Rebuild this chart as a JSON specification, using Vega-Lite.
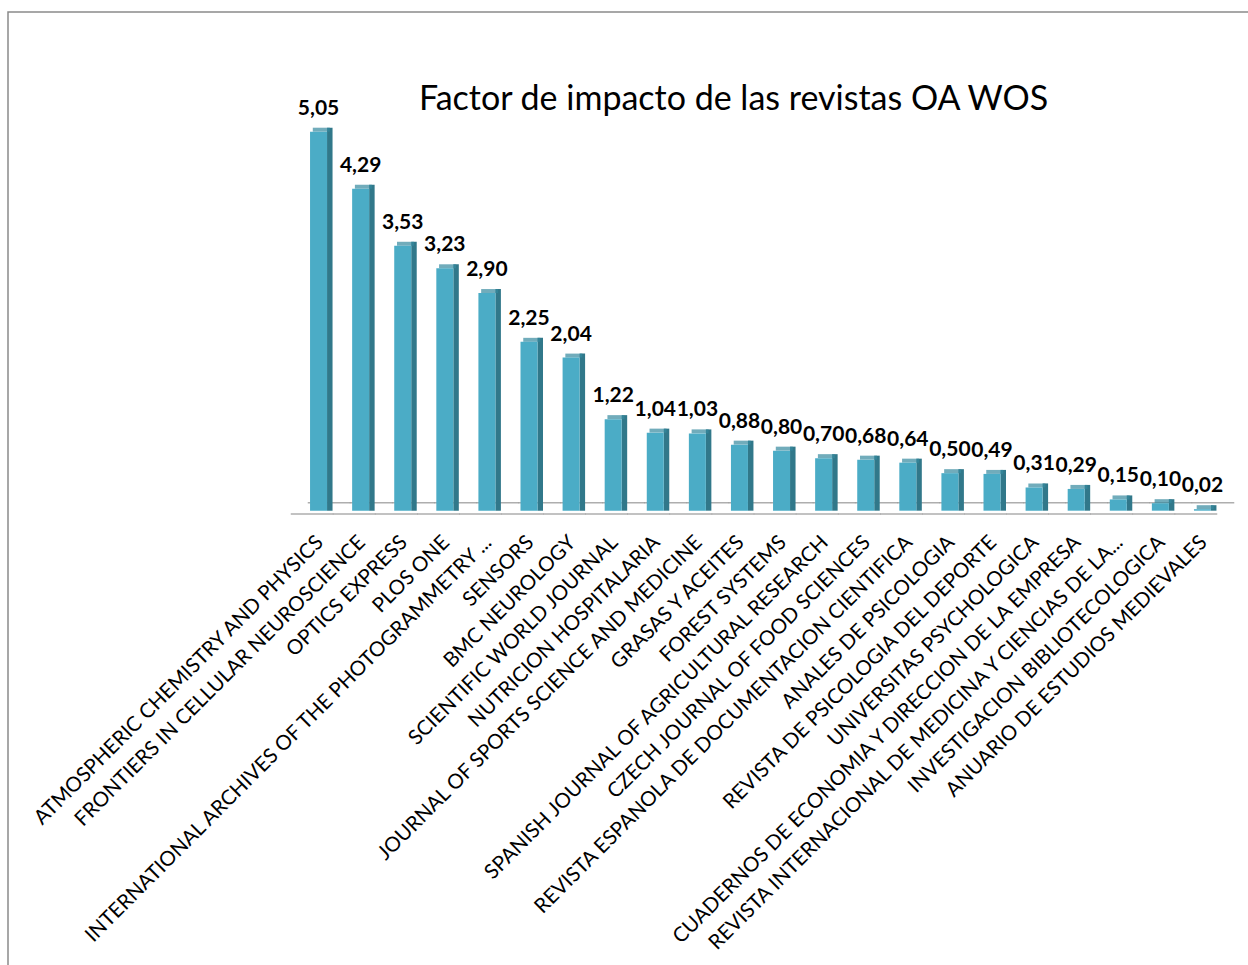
{
  "$schema": "https://vega.github.io/schema/vega-lite/v6.json",
  "autosize": {"type": "none"},
  "padding": {"left": 8, "top": 12, "right": -4, "bottom": -4},
  "width": 1244,
  "height": 957,
  "background": "white",
  "config": {
    "locale": {"number": {"decimal": ",", "thousands": ".", "grouping": [3], "currency": ["", " €"]}},
    "view": {"stroke": "#8a8a8a", "strokeWidth": 1.5},
    "font": "Lato"
  },
  "title": {
    "text": "Factor de impacto de las revistas OA WOS",
    "font": "Lato",
    "fontSize": 34,
    "fontWeight": "normal",
    "color": "#000000",
    "anchor": "middle",
    "baseline": "alphabetic",
    "offset": 0,
    "dx": 103.5,
    "dy": 132
  },
  "data": {
    "values": [
      {"revista": "ATMOSPHERIC CHEMISTRY AND PHYSICS", "fi": 5.05},
      {"revista": "FRONTIERS IN CELLULAR NEUROSCIENCE", "fi": 4.29},
      {"revista": "OPTICS EXPRESS", "fi": 3.53},
      {"revista": "PLOS ONE", "fi": 3.23},
      {"revista": "INTERNATIONAL ARCHIVES OF THE PHOTOGRAMMETRY ...", "fi": 2.90},
      {"revista": "SENSORS", "fi": 2.25},
      {"revista": "BMC NEUROLOGY", "fi": 2.04},
      {"revista": "SCIENTIFIC WORLD JOURNAL", "fi": 1.22},
      {"revista": "NUTRICION HOSPITALARIA", "fi": 1.04},
      {"revista": "JOURNAL OF SPORTS SCIENCE AND MEDICINE", "fi": 1.03},
      {"revista": "GRASAS Y ACEITES", "fi": 0.88},
      {"revista": "FOREST SYSTEMS", "fi": 0.80},
      {"revista": "SPANISH JOURNAL OF AGRICULTURAL RESEARCH", "fi": 0.70},
      {"revista": "CZECH JOURNAL OF FOOD SCIENCES", "fi": 0.68},
      {"revista": "REVISTA ESPANOLA DE DOCUMENTACION CIENTIFICA", "fi": 0.64},
      {"revista": "ANALES DE PSICOLOGIA", "fi": 0.50},
      {"revista": "REVISTA DE PSICOLOGIA DEL DEPORTE", "fi": 0.49},
      {"revista": "UNIVERSITAS PSYCHOLOGICA", "fi": 0.31},
      {"revista": "CUADERNOS DE ECONOMIA Y DIRECCION DE LA EMPRESA", "fi": 0.29},
      {"revista": "REVISTA INTERNACIONAL DE MEDICINA Y CIENCIAS DE LA...", "fi": 0.15},
      {"revista": "INVESTIGACION BIBLIOTECOLOGICA", "fi": 0.10},
      {"revista": "ANUARIO DE ESTUDIOS MEDIEVALES", "fi": 0.02}
    ]
  },
  "encoding": {
    "x": {
      "field": "revista",
      "type": "nominal",
      "sort": null,
      "scale": {"paddingInner": 0, "paddingOuter": 0, "range": [291, 1217]},
      "axis": {
        "orient": "bottom",
        "offset": -458,
        "title": null,
        "domain": false,
        "ticks": false,
        "labelAngle": -45,
        "labelAlign": "right",
        "labelBaseline": "middle",
        "labelPadding": 28,
        "labelFont": "Lato",
        "labelFontSize": 20.5,
        "labelColor": "#000000",
        "labelLimit": 1000,
        "labelOverlap": false
      }
    }
  },
  "layer": [
    {
      "mark": {"type": "tick", "size": 42.6, "thickness": 1.6, "color": "#8c8c8c", "xOffset": 9},
      "encoding": {"y": {"datum": 0.105, "type": "quantitative", "scale": {"domain": [-6.107, 6.645], "nice": false, "zero": false}, "axis": null}}
    },
    {
      "mark": {"type": "tick", "size": 42.6, "thickness": 1.6, "color": "#8c8c8c", "xOffset": -8},
      "encoding": {"y": {"datum": -0.045, "type": "quantitative"}}
    },
    {
      "mark": {"type": "bar", "size": 5.5, "xOffset": 9.75, "yOffset": -4, "color": "#31788a"},
      "encoding": {
        "y": {"field": "fi", "type": "quantitative"},
        "y2": {"datum": 0}
      }
    },
    {
      "mark": {"type": "tick", "size": 17, "thickness": 4, "xOffset": 1.25, "yOffset": -2, "color": "#35899e"},
      "encoding": {"y": {"field": "fi", "type": "quantitative"}}
    },
    {
      "mark": {"type": "bar", "size": 17, "xOffset": -1.5, "color": "#4bacc6"},
      "encoding": {
        "y": {"field": "fi", "type": "quantitative"},
        "y2": {"datum": 0}
      }
    },
    {
      "mark": {"type": "text", "font": "Lato", "fontSize": 21, "fontWeight": "bold", "color": "#000000", "baseline": "alphabetic", "align": "center", "dy": -17, "dx": -1.5},
      "encoding": {
        "y": {"field": "fi", "type": "quantitative"},
        "text": {"field": "fi", "type": "quantitative", "format": ".2f"}
      }
    }
  ]
}
